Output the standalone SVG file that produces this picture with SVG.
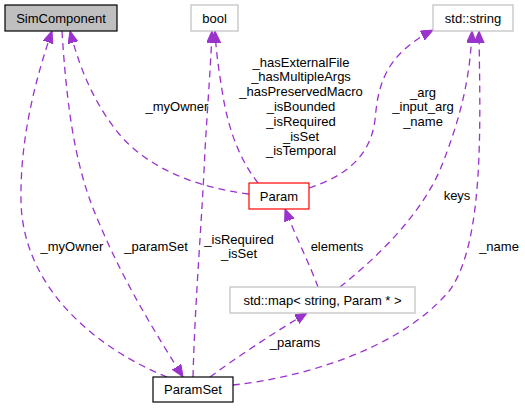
<svg xmlns="http://www.w3.org/2000/svg" width="525" height="408" viewBox="0 0 525 408">
<style>
text{font-family:"Liberation Sans",Arial,sans-serif;font-size:13px;fill:#000;text-anchor:middle}
.n{fill:#fff;stroke:#bfbfbf;stroke-width:1.2}
.e{fill:none;stroke:#9a32cd;stroke-width:1.3;stroke-dasharray:7,5;marker-end:url(#ah)}
</style>
<defs>
<marker id="ah" markerUnits="userSpaceOnUse" markerWidth="14" markerHeight="12" refX="12" refY="5" orient="auto">
<path d="M0,0 L12,5 L0,10 Z" fill="#9a32cd" stroke="#9a32cd" stroke-width="1"/>
</marker>
</defs>
<rect width="525" height="408" fill="#fff"/>
<g id="edges">
<path class="e" d="M167,377 C100,350 22,290 21,200 C20,140 35,80 52,31"/>
<path class="e" d="M62,31 C68,130 80,180 100,225 C125,285 160,340 183,377"/>
<path class="e" d="M249,194 C200,188 150,170 120,135 C95,105 80,70 70,31"/>
<path class="e" d="M193,377 C195,300 202,220 205,150 C208,100 211,60 212,31"/>
<path class="e" d="M258,183 C240,160 228,130 222,90 C218,65 216,50 215,31"/>
<path class="e" d="M309,188 C340,178 370,160 375,120 C378,85 385,55 433,30"/>
<path class="e" d="M340,287 C380,255 420,215 440,170 C460,120 470,80 472,31"/>
<path class="e" d="M233,385 C300,378 400,350 450,290 C485,240 480,120 479,31"/>
<path class="e" d="M318,287 C310,265 295,235 285,209"/>
<path class="e" d="M210,377 C240,355 275,332 307,313"/>
<text x="72" y="251">_myOwner</text>
<text x="156" y="251">_paramSet</text>
<text x="239" y="244">_isRequired</text>
<text x="239" y="258">_isSet</text>
<text x="177" y="111">_myOwner</text>
<text x="301" y="66.5">_hasExternalFile</text>
<text x="301" y="81.3">_hasMultipleArgs</text>
<text x="301" y="96.1">_hasPreservedMacro</text>
<text x="301" y="110.9">_isBounded</text>
<text x="301" y="125.7">_isRequired</text>
<text x="301" y="140.5">_isSet</text>
<text x="301" y="155.3">_isTemporal</text>
<text x="423" y="96.5">_arg</text>
<text x="423" y="111.3">_input_arg</text>
<text x="423" y="126.1">_name</text>
<text x="457" y="199.5">keys</text>
<text x="337" y="251">elements</text>
<text x="499" y="251">_name</text>
<text x="295" y="347">_params</text>
</g>
<g id="SimComponent">
<rect x="5" y="5" width="112" height="26" fill="#bfbfbf" stroke="#000" stroke-width="1.2"/>
<text x="61" y="22.5">SimComponent</text>
</g>
<g id="bool">
<rect class="n" x="191" y="5" width="47" height="26"/>
<text x="214.5" y="22.5">bool</text>
</g>
<g id="stdstring">
<rect class="n" x="433" y="5" width="80" height="26"/>
<text x="473" y="22.5">std::string</text>
</g>
<g id="Param">
<rect x="249" y="183" width="60" height="26" fill="#fff" stroke="#ff0000" stroke-width="1.2"/>
<text x="279" y="200.5">Param</text>
</g>
<g id="stdmap">
<rect class="n" x="230" y="287" width="185" height="26"/>
<text x="322.5" y="304.5">std::map&lt; string, Param * &gt;</text>
</g>
<g id="ParamSet">
<rect x="153" y="377" width="80" height="25" fill="#fff" stroke="#000" stroke-width="1.2"/>
<text x="193" y="394">ParamSet</text>
</g>
</svg>
